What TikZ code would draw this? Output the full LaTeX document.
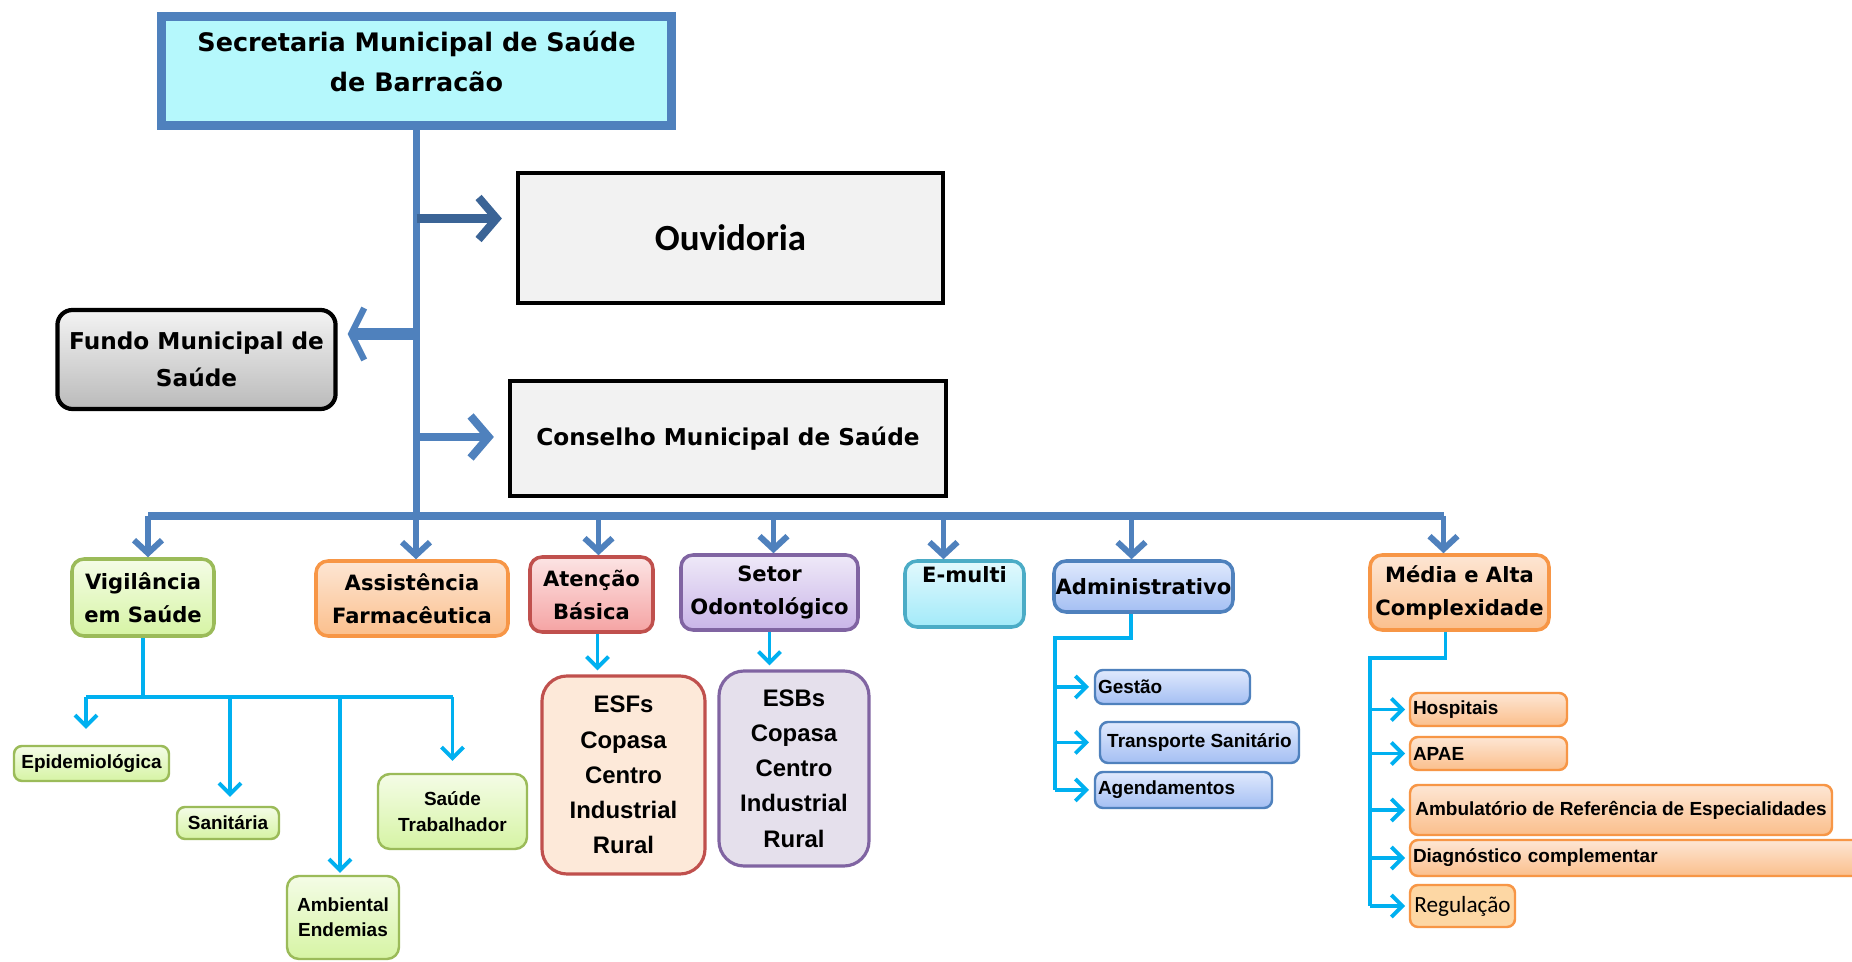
\documentclass[tikz,border=0pt]{standalone}
\usepackage{fontspec}
\setmainfont{DejaVu Sans}
\newfontfamily\libsans{Liberation Sans}
\newfontfamily\carl{Carlito}
\usetikzlibrary{arrows.meta}
\definecolor{headfill}{HTML}{B5F8FC}
\definecolor{azul}{HTML}{4F81BD}
\definecolor{azulesc}{HTML}{3B6496}
\definecolor{ciano}{HTML}{00B0F0}
\definecolor{cinza}{HTML}{F2F2F2}
\definecolor{verde}{HTML}{9BBB59}
\definecolor{verdetop}{HTML}{F4FCE6}
\definecolor{verdebot}{HTML}{D6F4A4}
\definecolor{laranja}{HTML}{F79646}
\definecolor{laranjatop}{HTML}{FDE6D4}
\definecolor{laranjabot}{HTML}{FBBF8C}
\definecolor{vermelho}{HTML}{C0504D}
\definecolor{vermelhotop}{HTML}{FCE4E4}
\definecolor{vermelhobot}{HTML}{F5A3A3}
\definecolor{roxo}{HTML}{8064A2}
\definecolor{roxotop}{HTML}{EFE9F8}
\definecolor{roxobot}{HTML}{C9B5E8}
\definecolor{teal}{HTML}{4BACC6}
\definecolor{tealtop}{HTML}{E2F9FD}
\definecolor{tealbot}{HTML}{A2EAF9}
\definecolor{azultop}{HTML}{E0E9FD}
\definecolor{azulbot}{HTML}{A4BFF3}
\definecolor{esffill}{HTML}{FDE9D9}
\definecolor{esbfill}{HTML}{E5E0EC}
\definecolor{regulfill}{HTML}{FDD7A4}
\tikzstyle{head} = [rectangle, draw = azul, line width = 2.5pt, fill = headfill, minimum width = 5.1cm, minimum height = 1.09cm, text depth = 0.19cm, align = center, font = \bfseries\fontsize{7.25pt}{11.4pt}\selectfont]
\tikzstyle{greybox} = [rectangle, draw = black, line width = 1.2pt, fill = cinza, align = center]
\tikzstyle{fundobox} = [rectangle, rounded corners = 0.15cm, draw = black, line width = 1.2pt, top color = cinza!90!white, bottom color = black!27, minimum width = 2.67cm, minimum height = 0.99cm, align = center, font = \bfseries\fontsize{6.6pt}{10.4pt}\selectfont]
\tikzstyle{dept} = [rectangle, rounded corners = 0.12cm, line width = 1pt, inner sep = 0pt, align = center, font = \bfseries\fontsize{6pt}{9.4pt}\selectfont]
\tikzstyle{leaf} = [rectangle, rounded corners = 0.08cm, line width = 0.7pt, inner sep = 0.03cm, align = center, font = \libsans\bfseries\fontsize{5.4pt}{7.2pt}\selectfont]
\tikzstyle{team} = [rectangle, rounded corners = 0.25cm, line width = 0.9pt, align = center, font = \libsans\bfseries\fontsize{6.8pt}{10pt}\selectfont]
\tikzstyle{fillgreen} = [draw = verde, top color = verdetop, bottom color = verdebot]
\tikzstyle{fillorange} = [draw = laranja, top color = laranjatop, bottom color = laranjabot]
\tikzstyle{fillred} = [draw = vermelho, top color = vermelhotop, bottom color = vermelhobot]
\tikzstyle{fillpurple} = [draw = roxo, top color = roxotop, bottom color = roxobot]
\tikzstyle{fillteal} = [draw = teal, top color = tealtop, bottom color = tealbot]
\tikzstyle{fillblue} = [draw = azul, top color = azultop, bottom color = azulbot]
\tikzstyle{trunk} = [draw = azul, line width = 2.2pt]
\tikzstyle{arrowbig} = [line width = 2.3pt, -{Straight Barb[length = 0.18cm, width = 0.42cm]}]
\tikzstyle{arrowfundo} = [draw = azul, line width = 3.4pt, -{Straight Barb[length = 0.13cm, width = 0.52cm, line width = 1.8pt]}]
\tikzstyle{arrowdown} = [draw = azul, line width = 1.7pt, -{Straight Barb[length = 0.13cm, width = 0.28cm]}]
\tikzstyle{sub} = [draw = ciano, line width = 1.1pt]
\tikzstyle{subarrow} = [sub, -{Straight Barb[length = 0.11cm, width = 0.22cm]}]

\begin{document}
\begin{tikzpicture}[node distance = 1cm]
\path[use as bounding box, fill = white] (0,0) rectangle (18.52,-9.62);
%定义各部门
\node[head] (sec) at (4.165,-0.71) {Secretaria Municipal de Saúde\\de Barracão};
\node[greybox, below of = sec, xshift = 3.14cm, yshift = -0.67cm, minimum width = 4.25cm, minimum height = 1.3cm, font = \carl\bfseries\fontsize{10.5pt}{13pt}\selectfont](ouv){Ouvidoria};
\node[fundobox, below of = sec, xshift = -2.2cm, yshift = -1.885cm](fundo){Fundo Municipal de\\Saúde};
\node[greybox, below of = ouv, xshift = -0.025cm, yshift = -1.005cm, minimum width = 4.36cm, minimum height = 1.15cm, font = \bfseries\fontsize{6.6pt}{8pt}\selectfont](cons){Conselho Municipal de Saúde};
\coordinate[below of = sec, yshift = -3.45cm](bar);
\node[dept, fillgreen, below of = sec, xshift = -2.735cm, yshift = -4.265cm, minimum width = 1.42cm, minimum height = 0.77cm](vig){Vigilância\\em Saúde};
\node[dept, fillorange, right of = vig, xshift = 1.69cm, yshift = -0.01cm, minimum width = 1.92cm, minimum height = 0.75cm](assist){Assistência\\Farmacêutica};
\node[dept, fillred, right of = assist, xshift = 0.795cm, yshift = 0.04cm, minimum width = 1.23cm, minimum height = 0.75cm](aten){Atenção\\Básica};
\node[dept, fillpurple, right of = aten, xshift = 0.78cm, yshift = 0.02cm, minimum width = 1.77cm, minimum height = 0.75cm](setor){Setor\\Odontológico};
\node[dept, fillteal, right of = setor, xshift = 0.95cm, yshift = -0.015cm, minimum width = 1.19cm, text height = 0.14cm, text depth = 0.36cm, inner ysep = 0.08cm](emulti){E-multi};
\node[dept, fillblue, right of = emulti, xshift = 0.79cm, yshift = 0.075cm, minimum width = 1.79cm, minimum height = 0.51cm](adm){Administrativo};
\node[dept, fillorange, right of = adm, xshift = 2.16cm, yshift = -0.06cm, minimum width = 1.79cm, minimum height = 0.75cm](media){Média e Alta\\Complexidade};
%vigilância
\coordinate[below of = vig, yshift = 0.005cm](vbar);
\node[leaf, fillgreen, below of = vig, xshift = -0.515cm, yshift = -0.66cm, minimum width = 1.55cm, minimum height = 0.35cm](epi){Epidemiológica};
\node[leaf, fillgreen, below of = vig, xshift = 0.85cm, yshift = -1.255cm, minimum width = 1.02cm, minimum height = 0.32cm](sanit){Sanitária};
\node[leaf, fillgreen, below of = vig, xshift = 2cm, yshift = -2.2cm, minimum width = 1.12cm, minimum height = 0.83cm, rounded corners = 0.12cm](ambi){Ambiental\\Endemias};
\node[leaf, fillgreen, below of = vig, xshift = 3.095cm, yshift = -1.14cm, minimum width = 1.49cm, minimum height = 0.75cm, rounded corners = 0.12cm](trab){Saúde\\Trabalhador};
%equipes
\node[team, draw = vermelho, fill = esffill, below of = aten, xshift = 0.32cm, yshift = -0.805cm, minimum width = 1.63cm, minimum height = 1.98cm](esf){ESFs\\Copasa\\Centro\\Industrial\\Rural};
\node[team, draw = roxo, fill = esbfill, below of = setor, xshift = 0.245cm, yshift = -0.76cm, minimum width = 1.5cm, minimum height = 1.95cm](esb){ESBs\\Copasa\\Centro\\Industrial\\Rural};
%administrativo
\coordinate[below of = adm, xshift = -0.885cm, yshift = 0.485cm](ajoin);
\node[leaf, fillblue, align = left, text width = 1.49cm, minimum height = 0.34cm, below of = adm, xshift = 0.29cm, yshift = -0.005cm](gest){Gestão};
\node[leaf, fillblue, minimum width = 1.99cm, minimum height = 0.41cm, below of = gest, xshift = 0.27cm, yshift = 0.445cm](transp){Transporte Sanitário};
\node[leaf, fillblue, align = left, text width = 1.71cm, minimum height = 0.36cm, below of = transp, xshift = -0.16cm, yshift = 0.525cm](agend){Agendamentos};
%média e alta complexidade
\coordinate[below of = media, xshift = -0.895cm, yshift = 0.345cm](mjoin);
\node[leaf, fillorange, align = left, text width = 1.51cm, minimum height = 0.33cm, below of = media, xshift = 0.29cm, yshift = -0.17cm](hosp){Hospitais};
\node[leaf, fillorange, align = left, text width = 1.51cm, minimum height = 0.33cm, below of = hosp, yshift = 0.56cm](apae){APAE};
\node[leaf, fillorange, minimum width = 4.22cm, minimum height = 0.5cm, below of = apae, xshift = 1.325cm, yshift = 0.435cm](amb){Ambulatório de Referência de Especialidades};
\node[leaf, fillorange, align = left, text width = 4.54cm, minimum height = 0.36cm, below of = amb, xshift = 0.19cm, yshift = 0.52cm](diag){Diagnóstico complementar};
\node[leaf, draw = laranja, fill = regulfill, minimum width = 1.05cm, minimum height = 0.42cm, font = \carl\fontsize{6.6pt}{8pt}\selectfont, below of = diag, xshift = -1.775cm, yshift = 0.52cm](regul){Regulação};
%连接线
\draw[trunk] (sec.south) -- (bar);
\draw[arrowbig, draw = azulesc] ([yshift = 0.195cm]ouv.west -| sec.south) -- ([xshift = -0.14cm, yshift = 0.195cm]ouv.west);
\draw[arrowfundo] ([yshift = 0.255cm]fundo.east -| sec.south) -- ([xshift = 0.1cm, yshift = 0.255cm]fundo.east);
\draw[arrowbig, draw = azul] ([yshift = 0.015cm]cons.west -| sec.south) -- ([xshift = -0.14cm, yshift = 0.015cm]cons.west);
\draw[trunk] ([xshift = 0.05cm]vig.north |- bar) -- ([xshift = -0.16cm]media.north |- bar);
\foreach \n/\dx in {vig/0.05, assist/0.04, aten/0.07, setor/0.04, emulti/-0.21, adm/-0.12, media/-0.16}
  \draw[arrowdown] ([xshift = \dx cm]\n.north |- bar) -- ([xshift = \dx cm]\n.north);
\draw[sub] (vig.south) -- (vbar);
\draw[sub] ([xshift = -0.055cm]epi.north |- vbar) -- (trab.north |- vbar);
\foreach \n/\dx/\dy in {epi/-0.055/0.16, sanit/0.02/0.09, ambi/-0.03/0.02, trab/0/0.12}
  \draw[subarrow] ([xshift = \dx cm]\n.north |- vbar) -- ([xshift = \dx cm, yshift = \dy cm]\n.north);
\draw[subarrow] ([xshift = 0.06cm]aten.south) -- ([xshift = 0.06cm, yshift = 0.04cm]aten.south |- esf.north);
\draw[subarrow] (setor.south) -- ([yshift = 0.04cm]setor.south |- esb.north);
\draw[sub] ([xshift = -0.125cm]adm.south) |- (ajoin) -- (ajoin |- agend.west);
\foreach \n in {gest, transp, agend}
  \draw[subarrow] (ajoin |- \n.west) -- ++(0.34,0);
\draw[sub] ([xshift = -0.14cm]media.south) |- (mjoin) -- (mjoin |- regul.west);
\foreach \n in {hosp, apae, amb, diag, regul}
  \draw[subarrow] (mjoin |- \n.west) -- ++(0.35,0);
\end{tikzpicture}
\end{document}
